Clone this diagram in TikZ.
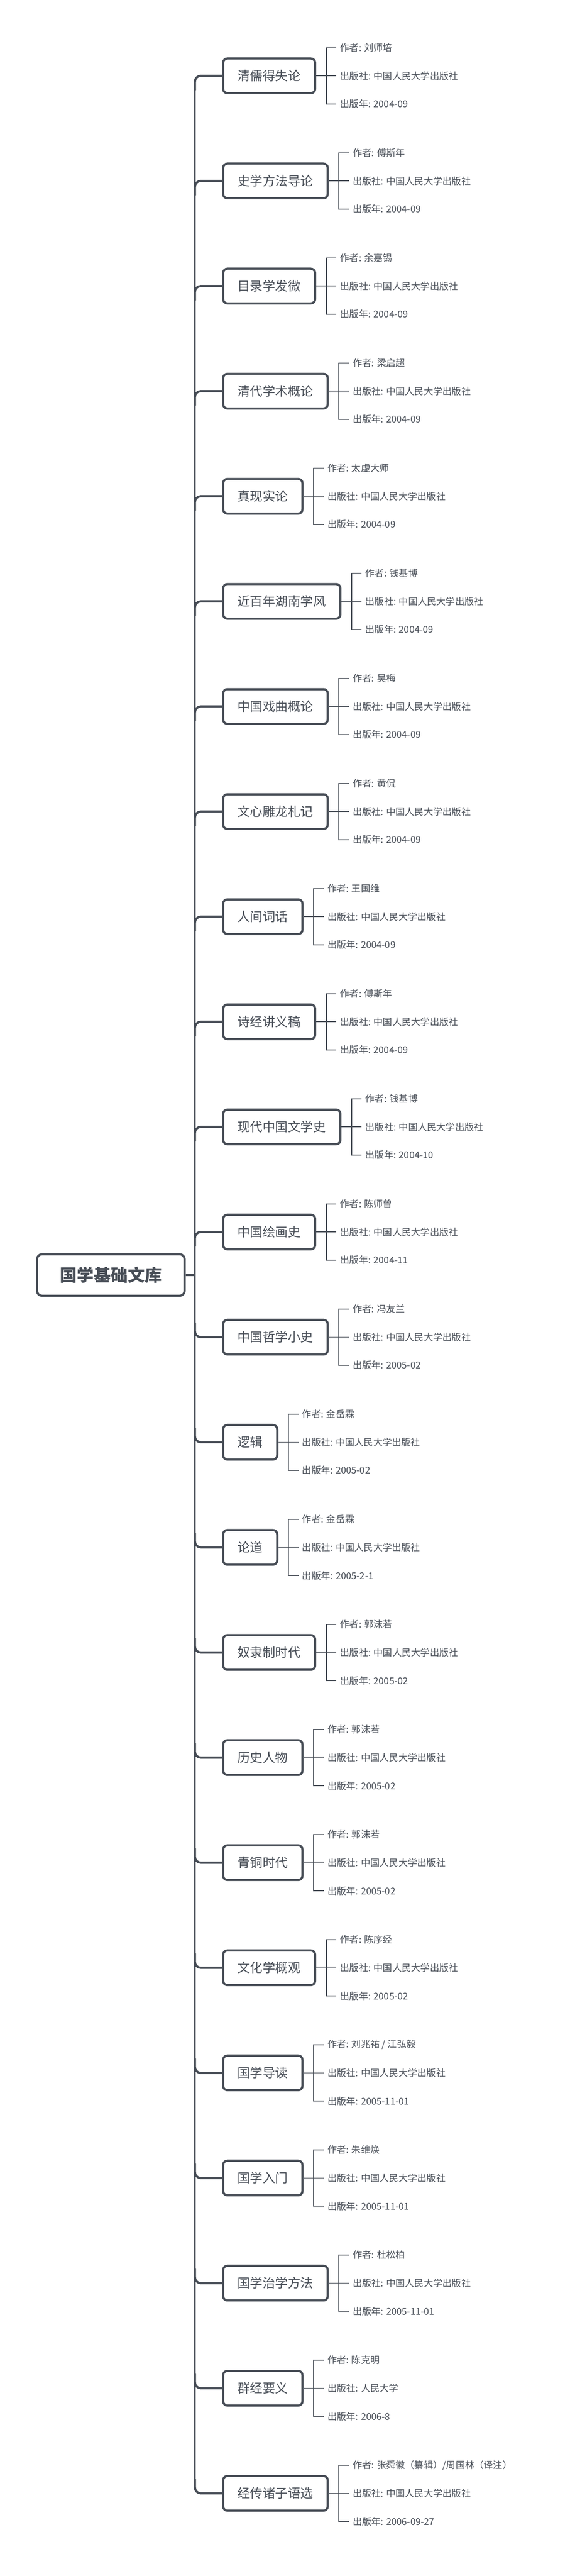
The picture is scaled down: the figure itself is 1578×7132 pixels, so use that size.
\documentclass[tikz,border=0pt]{standalone}
\usepackage{fontspec}
\setmainfont{Noto Sans CJK SC}
\definecolor{ink}{HTML}{474D56}
\newcommand\bk[6]{% index, y, title, author, publisher, year
  \node[book] (b#1) at (615,#2) {#3};
  \coordinate (f#1) at ([xshift=28pt]b#1.east);
  \node[leaf] (a#1) at ([xshift=28pt,yshift=78pt]f#1) {作者: #4};
  \node[leaf] (p#1) at ([xshift=28pt]f#1) {出版社: #5};
  \node[leaf] (y#1) at ([xshift=28pt,yshift=-78pt]f#1) {出版年: #6};
  \draw[thin line] (b#1.east) -- (f#1);
  \draw[thin line] (f#1) -- (p#1.west);
  \draw[thin line] (f#1) |- (a#1.west);
  \draw[thin line] (f#1) |- (y#1.west);
}
\begin{document}
\begin{tikzpicture}[x=1pt,y=-1pt,
  book/.style={draw=ink,line width=6pt,rounded corners=12pt,anchor=west,inner xsep=40pt,minimum height=96pt,font=\fontsize{35}{40}\selectfont,text=ink},
  leaf/.style={anchor=west,inner xsep=10pt,inner ysep=0pt,font=\fontsize{26}{30}\selectfont,text=ink},
  thin line/.style={draw=ink,line width=2.5pt},
  branch/.style={draw=ink,line width=6pt,rounded corners=16pt}]
\useasboundingbox (0,0) rectangle (1578,7132);
\fill[white] (0,0) rectangle (1578,7132);
\node[draw=ink,line width=6pt,rounded corners=14pt,minimum width=409pt,minimum height=115pt,font=\fontsize{47}{52}\bfseries\selectfont,text=ink] (root) at (307,3530) {国学基础文库};
\bk{0}{210}{清儒得失论}{刘师培}{中国人民大学出版社}{2004-09}
\bk{1}{501}{史学方法导论}{傅斯年}{中国人民大学出版社}{2004-09}
\bk{2}{792}{目录学发微}{余嘉锡}{中国人民大学出版社}{2004-09}
\bk{3}{1083}{清代学术概论}{梁启超}{中国人民大学出版社}{2004-09}
\bk{4}{1374}{真现实论}{太虚大师}{中国人民大学出版社}{2004-09}
\bk{5}{1665}{近百年湖南学风}{钱基博}{中国人民大学出版社}{2004-09}
\bk{6}{1956}{中国戏曲概论}{吴梅}{中国人民大学出版社}{2004-09}
\bk{7}{2247}{文心雕龙札记}{黄侃}{中国人民大学出版社}{2004-09}
\bk{8}{2538}{人间词话}{王国维}{中国人民大学出版社}{2004-09}
\bk{9}{2829}{诗经讲义稿}{傅斯年}{中国人民大学出版社}{2004-09}
\bk{10}{3120}{现代中国文学史}{钱基博}{中国人民大学出版社}{2004-10}
\bk{11}{3411}{中国绘画史}{陈师曾}{中国人民大学出版社}{2004-11}
\bk{12}{3702}{中国哲学小史}{冯友兰}{中国人民大学出版社}{2005-02}
\bk{13}{3993}{逻辑}{金岳霖}{中国人民大学出版社}{2005-02}
\bk{14}{4284}{论道}{金岳霖}{中国人民大学出版社}{2005-2-1}
\bk{15}{4575}{奴隶制时代}{郭沫若}{中国人民大学出版社}{2005-02}
\bk{16}{4866}{历史人物}{郭沫若}{中国人民大学出版社}{2005-02}
\bk{17}{5157}{青铜时代}{郭沫若}{中国人民大学出版社}{2005-02}
\bk{18}{5448}{文化学概观}{陈序经}{中国人民大学出版社}{2005-02}
\bk{19}{5739}{国学导读}{刘兆祐 / 江弘毅}{中国人民大学出版社}{2005-11-01}
\bk{20}{6030}{国学入门}{朱维焕}{中国人民大学出版社}{2005-11-01}
\bk{21}{6321}{国学治学方法}{杜松柏}{中国人民大学出版社}{2005-11-01}
\bk{22}{6612}{群经要义}{陈克明}{人民大学}{2006-8}
\bk{23}{6903}{经传诸子语选}{张舜徽（纂辑）/周国林（译注）}{中国人民大学出版社}{2006-09-27}
% trunk
\coordinate (t0) at (540,240);
\coordinate (t1) at (540,6873);
\draw[draw=ink,line width=5pt] (t0) -- (t1);
\draw[draw=ink,line width=6pt] (root.east) -- (540,3530);
\foreach \i in {0,...,11}{\draw[branch] ([yshift=-40pt]b\i.west -| t0) -- (b\i.west -| t0) -- (b\i.west);}
\foreach \i in {12,...,23}{\draw[branch] ([yshift=40pt]b\i.west -| t0) -- (b\i.west -| t0) -- (b\i.west);}
\end{tikzpicture}
\end{document}
